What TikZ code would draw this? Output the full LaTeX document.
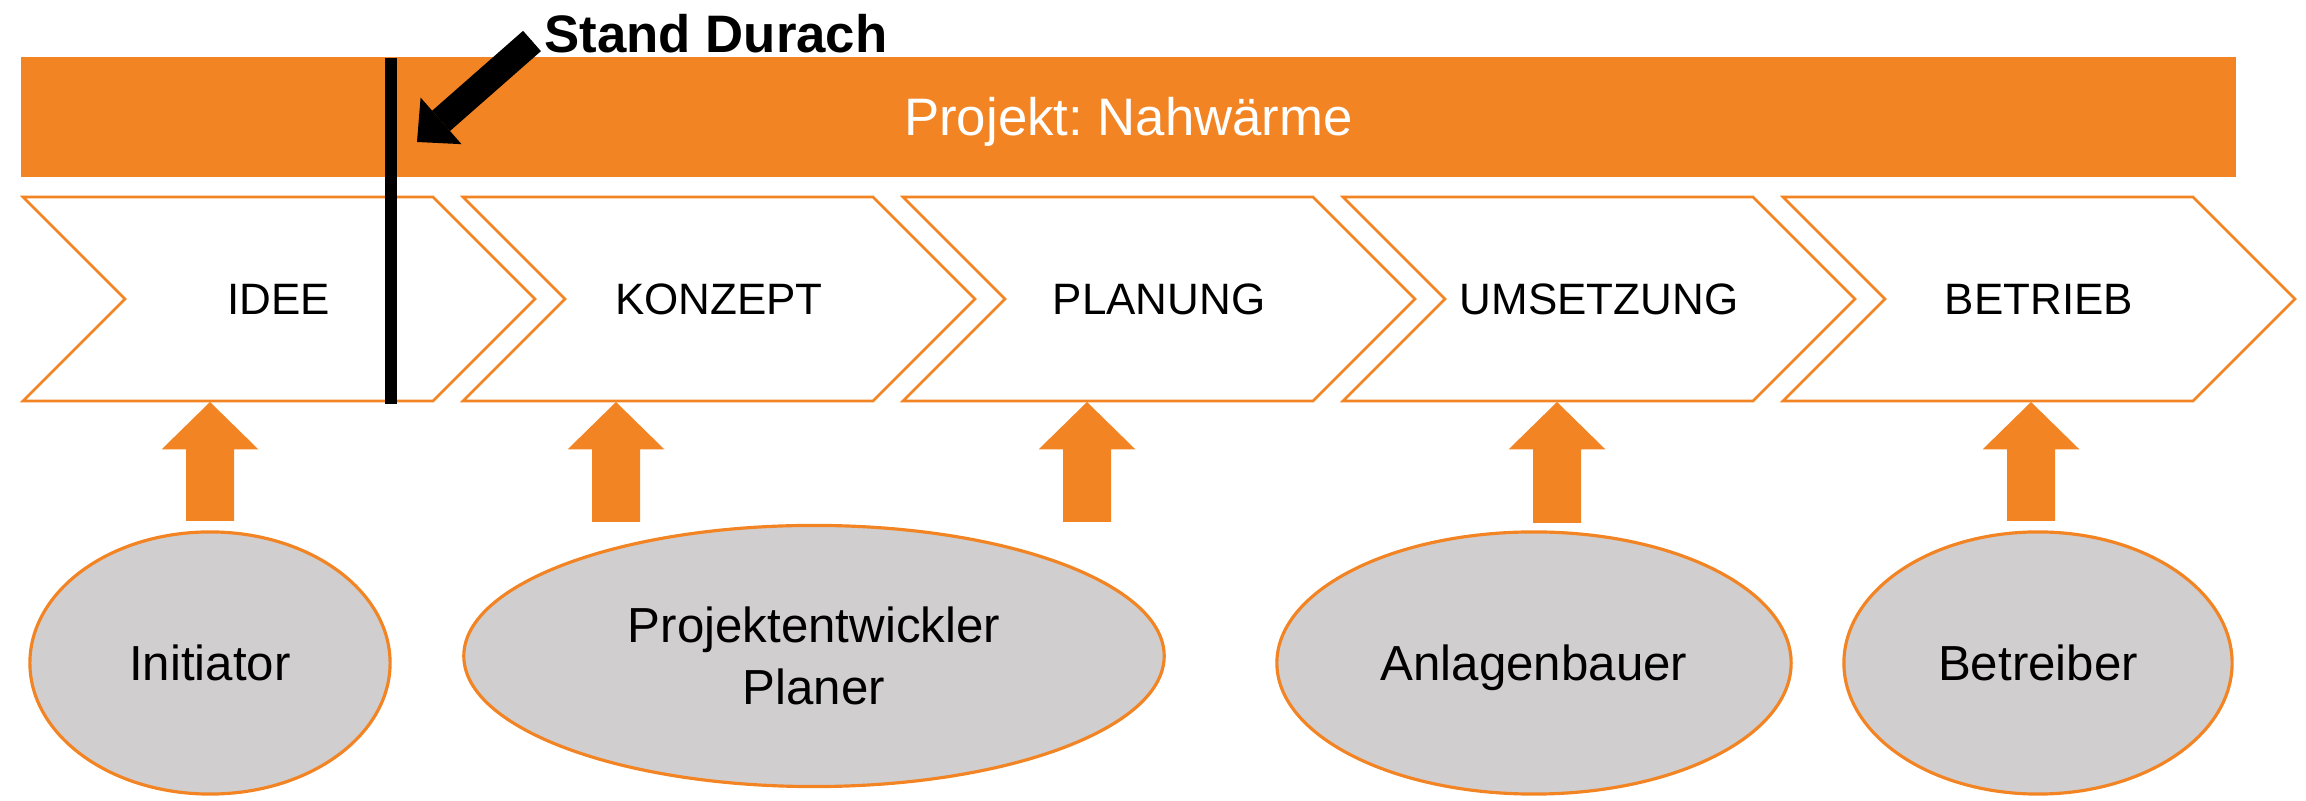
\documentclass[tikz,border=0pt]{standalone}
\usepackage{fontspec}
\setmainfont{Liberation Sans}
\usepackage{xcolor}
\usetikzlibrary{shapes.geometric,arrows.meta,calc}
\frenchspacing

\definecolor{nwOrange}{RGB}{242,132,36}
\definecolor{nwGray}{RGB}{208,206,207}

\tikzset{
  bar/.style={fill=nwOrange, minimum width=22.13cm, minimum height=1.2cm, inner sep=0pt,
    text=white, font=\fontsize{15}{18}\selectfont, text height=10.7pt, text depth=0pt},
  phase/.style={draw=nwOrange, line width=0.75pt, fill=white},
  phasetext/.style={font=\fontsize{12.5}{15}\selectfont},
  actor/.style={ellipse, draw=nwOrange, fill=nwGray, line width=0.9pt, inner sep=0pt,
    font=\fontsize{14}{17.4}\selectfont},
  % block arrow from the foot (start) to the tip (target)
  supply/.style={fill=nwOrange, to path={
    ($(\tikztostart)+(-24,0)$) -- ($(\tikztotarget)+(-24,47.5)$) -- ($(\tikztotarget)+(-48.5,47.5)$)
    -- (\tikztotarget) -- ($(\tikztotarget)+(48.5,47.5)$) -- ($(\tikztotarget)+(24,47.5)$)
    -- ($(\tikztostart)+(24,0)$) -- cycle}},
  marker/.style={black, line width=0.12cm},
  pointer/.style={black, line width=0.27cm, preaction={draw, -, shorten >=0.29cm},
    -{Triangle[length=0.32cm,width=0.62cm,line width=0pt]}}
}

\begin{document}
\begin{tikzpicture}[x=0.01cm,y=-0.01cm]
        \useasboundingbox (0,0) rectangle (2306,801);
        \node[bar](projekt) at (1128.5,117) {Projekt: Nahwärme};
        \node[anchor=base, font=\bfseries\fontsize{15}{18}\selectfont](stand) at (716,53) {Stand Durach};
        % phases
        \draw[phase] (23,197) -- ++(410,0) -- ++(102,102) -- ++(-102,102) -- ++(-410,0) -- ++(102,-102) -- cycle;
        \draw[phase] (463,197) -- ++(410,0) -- ++(102,102) -- ++(-102,102) -- ++(-410,0) -- ++(102,-102) -- cycle;
        \draw[phase] (903,197) -- ++(410,0) -- ++(102,102) -- ++(-102,102) -- ++(-410,0) -- ++(102,-102) -- cycle;
        \draw[phase] (1343,197) -- ++(410,0) -- ++(102,102) -- ++(-102,102) -- ++(-410,0) -- ++(102,-102) -- cycle;
        \draw[phase] (1783,197) -- ++(410,0) -- ++(102,102) -- ++(-102,102) -- ++(-410,0) -- ++(102,-102) -- cycle;
        \node[phasetext](idee) at (279,299) {IDEE};
        \node[phasetext](konzept) at (719,299) {KONZEPT};
        \node[phasetext](planung) at (1159,299) {PLANUNG};
        \node[phasetext](umsetzung) at (1599,299) {UMSETZUNG};
        \node[phasetext](betrieb) at (2039,299) {BETRIEB};
        % actors
        \node[actor, minimum width=3.6cm, minimum height=2.62cm](initiator) at (210,663) {Initiator};
        \node[actor, minimum width=7.0cm, minimum height=2.61cm, align=center](entwickler) at (814,656) {Projektentwickler\\Planer};
        \node[actor, minimum width=5.14cm, minimum height=2.62cm, text depth=0pt](anlagenbauer) at (1534,663) {Anlagenbauer};
        \node[actor, minimum width=3.88cm, minimum height=2.62cm](betreiber) at (2038,663) {Betreiber};
        % arrows up
        \coordinate(u1) at (210,521); \coordinate(v1) at (210,402);
        \coordinate(u2) at (616,522); \coordinate(v2) at (616,402);
        \coordinate(u3) at (1087,522); \coordinate(v3) at (1087,402);
        \coordinate(u4) at (1557,523); \coordinate(v4) at (1557,402);
        \coordinate(u5) at (2031,521); \coordinate(v5) at (2031,402);
        \fill[supply](u1) to (v1);
        \fill[supply](u2) to (v2);
        \fill[supply](u3) to (v3);
        \fill[supply](u4) to (v4);
        \fill[supply](u5) to (v5);
        % stand
        \coordinate(mtop) at (391,58); \coordinate(mbot) at (391,404);
        \draw[marker](mtop)--(mbot);
        \coordinate(ptail) at (532,41); \coordinate(ptip) at (417,142);
        \draw[pointer](ptail)--(ptip);
\end{tikzpicture}
\end{document}
